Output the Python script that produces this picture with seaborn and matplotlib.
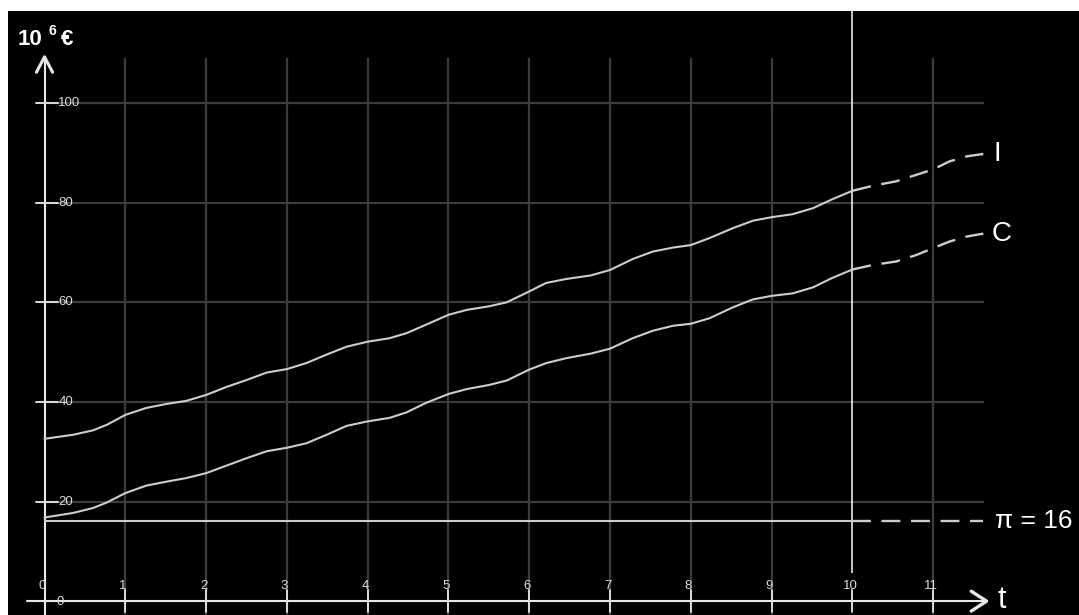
import matplotlib
matplotlib.use("Agg")
import matplotlib.pyplot as plt
import numpy as np
import pandas as pd
import seaborn as sns
from matplotlib.patches import Rectangle

# values
T_SOLID = [0, 0.35, 0.6, 0.77, 1.0, 1.26, 1.51, 1.75, 2.0, 2.25, 2.5, 2.75,
           3.0, 3.24, 3.49, 3.74, 4.0, 4.27, 4.48, 4.72, 5.0, 5.23, 5.5, 5.72,
           6.0, 6.21, 6.46, 6.76, 7.0, 7.28, 7.53, 7.78, 8.0, 8.23, 8.52, 8.77,
           9.0, 9.26, 9.51, 9.75, 10.0]
I_SOLID = [32.6, 33.4, 34.3, 35.4, 37.4, 38.8, 39.6, 40.2, 41.4, 43.0, 44.4, 45.9,
           46.6, 47.8, 49.5, 51.1, 52.1, 52.8, 53.8, 55.5, 57.5, 58.5, 59.2, 60.0,
           62.2, 63.9, 64.7, 65.4, 66.5, 68.7, 70.2, 71.0, 71.5, 72.9, 74.9, 76.4,
           77.1, 77.7, 78.9, 80.7, 82.4]
C_SOLID = [16.8, 17.7, 18.7, 19.8, 21.7, 23.2, 24.0, 24.7, 25.7, 27.2, 28.7, 30.1,
           30.8, 31.7, 33.4, 35.2, 36.1, 36.8, 37.9, 39.8, 41.6, 42.6, 43.4, 44.3,
           46.5, 47.8, 48.8, 49.7, 50.7, 52.8, 54.3, 55.3, 55.7, 56.8, 59.0, 60.6,
           61.3, 61.8, 63.0, 64.9, 66.6]

T_DASH = [10.0, 10.25, 10.54, 10.79, 11.0, 11.2, 11.41, 11.62]
I_DASH = [82.4, 83.4, 84.3, 85.6, 86.7, 88.3, 89.3, 89.8]
C_DASH = [66.6, 67.5, 68.2, 69.5, 70.9, 72.2, 73.2, 73.8]

PI_VALUE = 16
PI_T = [0, 10]
PI_T_DASH = [10, 11.62]

Y_TICKS = [20, 40, 60, 80, 100]
X_TICKS = list(range(0, 12))

# data-unit frame matching the picture
X_MIN, X_MAX = -0.551, 12.804
Y_MIN, Y_MAX = -2.78, 120.71

GRID = "#3c3c3c"
CURVE = "#cdcdcd"
AXIS = "#e8e8e8"
TEXT = "white"
TICK_TEXT = "#dcdcdc"
DASH = (0, (8, 4.5))

sns.set_theme(style="dark")
plt.rcParams["font.family"] = ["Liberation Sans", "DejaVu Sans"]

fig = plt.figure(figsize=(10.79, 6.15), dpi=100)
fig.patch.set_facecolor("black")
fig.patches.append(Rectangle((0, 1 - 11 / 615), 1, 11 / 615, transform=fig.transFigure,
                             facecolor="white", edgecolor="none", zorder=10))
fig.patches.append(Rectangle((0, 0), 8 / 1079, 1, transform=fig.transFigure,
                             facecolor="white", edgecolor="none", zorder=10))

ax = fig.add_axes([0, 0, 1, 1])
ax.set_facecolor("none")

# grid
ax.vlines([t for t in X_TICKS if t not in (0, 10)], Y_MIN, 109.0, color=GRID, linewidth=1.6, zorder=1)
ax.hlines(Y_TICKS, 0, 11.63, color=GRID, linewidth=1.6, zorder=1)

# present-time marker
ax.vlines(10, 5.7, 118.6, color="white", linewidth=1.1, zorder=2)

# axes with arrows
ax.plot([0, 0], [Y_MIN, 109.3], color=AXIS, linewidth=1.5, zorder=3)
ax.plot([-0.1, 0, 0.1], [106.2, 109.3, 106.2], color=AXIS, linewidth=2.2, zorder=3,
        solid_capstyle="round")
ax.plot([-0.22, 11.66], [0, 0], color=AXIS, linewidth=1.5, zorder=3)
ax.plot([11.47, 11.66, 11.47], [2.0, 0, -2.0], color=AXIS, linewidth=2.4, zorder=3,
        solid_capstyle="round")

# ticks and tick labels
for v in Y_TICKS:
    ax.plot([-0.11, 0.17], [v, v], color=TICK_TEXT, linewidth=1.4, zorder=3)
    ax.text(0.17, v, str(v), color=TICK_TEXT, fontsize=9.5, ha="left", va="center", zorder=4)
ax.text(0.15, -0.1, "0", color=TICK_TEXT, fontsize=9.5, ha="left", va="center", zorder=4)
for t in X_TICKS:
    if t > 0:
        ax.plot([t, t], [2.3, -2.2], color=TICK_TEXT, linewidth=1.4, zorder=3)
    ax.text(t - 0.03, 3.0, str(t), color=TICK_TEXT, fontsize=9.5, ha="center", va="center", zorder=4)

# curves
solid = pd.DataFrame({"t": T_SOLID, "I": I_SOLID, "C": C_SOLID})
dash = pd.DataFrame({"t": T_DASH, "I": I_DASH, "C": C_DASH})
for col in ("I", "C"):
    sns.lineplot(data=solid, x="t", y=col, color=CURVE, linewidth=1.5, ax=ax, zorder=5,
                 solid_joinstyle="round")
    sns.lineplot(data=dash, x="t", y=col, color=CURVE, linewidth=1.7, ax=ax, zorder=5,
                 linestyle=DASH)

pi_solid = pd.DataFrame({"t": PI_T, "pi": [PI_VALUE] * len(PI_T)})
pi_dash = pd.DataFrame({"t": PI_T_DASH, "pi": [PI_VALUE] * len(PI_T_DASH)})
sns.lineplot(data=pi_solid, x="t", y="pi", color=CURVE, linewidth=1.5, ax=ax, zorder=5)
sns.lineplot(data=pi_dash, x="t", y="pi", color=CURVE, linewidth=1.7, ax=ax, zorder=5,
             linestyle=DASH)

ax.set_xlim(X_MIN, X_MAX)
ax.set_ylim(Y_MIN, Y_MAX)
ax.axis("off")

# labels
ax.text(11.75, I_DASH[-1], "I", color=TEXT, fontsize=20, ha="left", va="center")
ax.text(11.72, C_DASH[-1], "C", color=TEXT, fontsize=20, ha="left", va="center")
ax.text(11.77, PI_VALUE, "\u03c0 = 16", color=TEXT, fontsize=19, ha="left", va="center")
ax.text(11.79, 0.3, "t", color=TEXT, fontsize=22, ha="left", va="center")
ax.text(-0.33, 111.7, "10", color=TEXT, fontsize=16, fontweight="bold", ha="left", va="baseline")
ax.text(0.055, 113.6, "6", color=TEXT, fontsize=10, fontweight="bold", ha="left", va="baseline")
ax.text(0.2, 111.7, "\u20ac", color=TEXT, fontsize=16, fontweight="bold", ha="left", va="baseline")

fig.savefig("out.png", dpi=100, facecolor=fig.get_facecolor())
plt.close(fig)
